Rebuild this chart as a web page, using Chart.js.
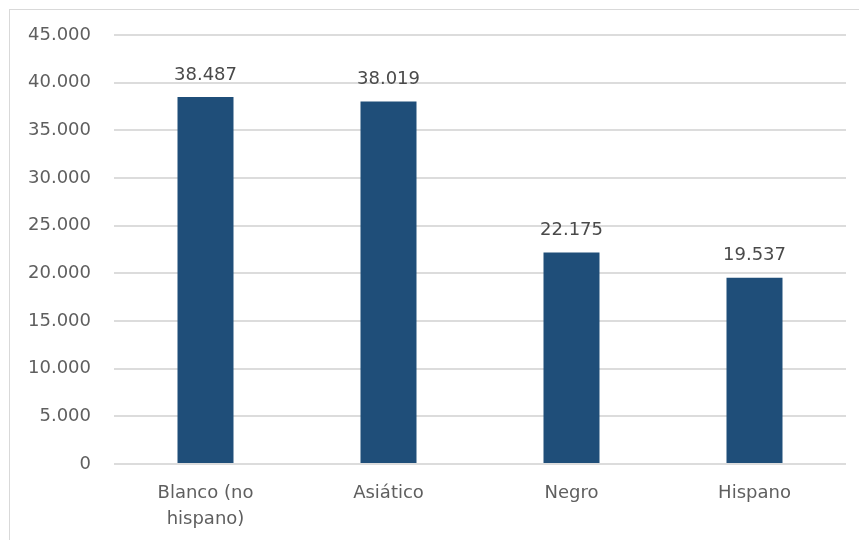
<!DOCTYPE html>
<html>
<head>
<meta charset="utf-8">
<script src="https://cdn.jsdelivr.net/npm/chart.js@4/dist/chart.umd.min.js"></script>
<style>
  html, body { margin: 0; padding: 0; background: #fff; }
  #frame { position: absolute; left: 9px; top: 9px; width: 860px; height: 560px; border: 1px solid #d9d9d9; }
  #wrap { position: absolute; left: 0; top: 0; width: 859px; height: 540px; }
</style>
</head>
<body>
<div id="frame"></div>
<div id="wrap"><canvas id="myChart"></canvas></div>
<script>
'use strict';

const categories = [['Blanco (no', 'hispano)'], 'Asiático', 'Negro', 'Hispano'];
const values = [38487, 38019, 22175, 19537];
const yMax = 45000;
const yStep = 5000;

function formatNum(n) {
  return String(Math.round(n)).replace(/\B(?=(\d{3})+(?!\d))/g, '.');
}

// value labels above the bars
const barLabels = {
  id: 'barLabels',
  afterDatasetsDraw(chart) {
    const ctx = chart.ctx;
    const meta = chart.getDatasetMeta(0);
    ctx.save();
    ctx.font = '18px "DejaVu Sans"';
    ctx.fillStyle = '#4a4a4a';
    ctx.textAlign = 'center';
    ctx.textBaseline = 'bottom';
    meta.data.forEach((bar, i) => {
      ctx.fillText(formatNum(values[i]), bar.x, bar.y - 13);
    });
    ctx.restore();
  }
};

const ctx = document.getElementById('myChart').getContext('2d');
const myChart = new Chart(ctx, {
  type: 'bar',
  data: {
    labels: categories,
    datasets: [{
      data: values,
      backgroundColor: '#1f4e79',
      categoryPercentage: 1,
      barPercentage: 0.306
    }]
  },
  options: {
    responsive: true,
    maintainAspectRatio: false,
    animation: false,
    layout: { padding: { left: 0, right: 13, top: 35, bottom: 0 } },
    plugins: {
      legend: { display: false },
      tooltip: { enabled: false }
    },
    scales: {
      x: {
        grid: { display: false, drawTicks: false },
        border: { display: false },
        ticks: {
          color: '#5f5f5f',
          font: { family: 'DejaVu Sans', size: 18, lineHeight: 1.45 },
          padding: 16,
          maxRotation: 0
        },
        afterFit(scale) { scale.height = 76; }
      },
      y: {
        min: 0,
        max: yMax,
        grid: { color: '#dcdcdc', lineWidth: 2, drawTicks: false },
        border: { display: false },
        ticks: {
          stepSize: yStep,
          color: '#5f5f5f',
          font: { family: 'DejaVu Sans', size: 18 },
          padding: 23,
          callback: v => formatNum(v)
        },
        afterFit(scale) { scale.width = 114; }
      }
    }
  },
  plugins: [barLabels]
});
</script>
</body>
</html>
